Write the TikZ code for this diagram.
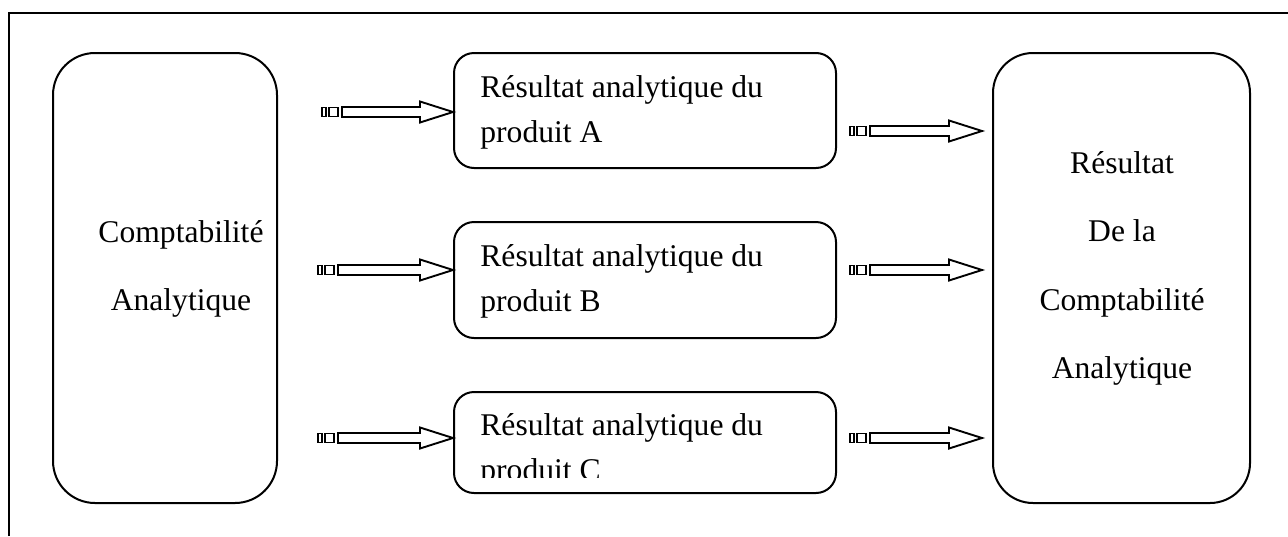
\documentclass[tikz,border=0pt]{standalone}
\usepackage{fontspec}
\setmainfont{Liberation Serif}
\usetikzlibrary{calc}

\tikzset{
  frameline/.style={line width=1pt},
  bigbox/.style={draw, line width=1pt, rounded corners=21pt, minimum height=225pt, inner sep=0pt},
  resbox/.style={draw, line width=1pt, rounded corners=10pt, minimum width=191pt, inner sep=0pt},
  txt/.style={font=\fontsize{15.8}{19}\selectfont, inner sep=0pt},
  arrowline/.style={line width=0.95pt, line join=miter},
}

% block arrow with two small tail squares: #1 tail point, #2 tip point
\newcommand\flowarrow[2]{%
  \draw[arrowline] ($(#1)+(0,-4.5)$) rectangle ($(#1)+(4,4.5)$);
  \draw[arrowline] ($(#1)+(7,-4.5)$) rectangle ($(#1)+(16,4.5)$);
  \draw[arrowline] ($(#1)+(20,-5)$) -- ($(#2)+(-33,-5)$) -- ($(#2)+(-33,-10.5)$)
    -- (#2) -- ($(#2)+(-33,10.5)$) -- ($(#2)+(-33,5)$) -- ($(#1)+(20,5)$) -- cycle;
}

\begin{document}
\begin{tikzpicture}[x=0.5pt, y=-0.5pt]
\useasboundingbox (0,0) rectangle (1288,536);

% outer frame (top and left edges)
\draw[frameline] (9,536) -- (9,13) -- (1288,13);

% source box
\node[bigbox, minimum width=112pt] (L) at (165,278) {};
\node[txt, anchor=base] (L1) at (181,242) {Comptabilité};
\node[txt, anchor=base] (L2) at (181,310) {Analytique};

% result box
\node[bigbox, minimum width=128.5pt, rounded corners=20pt] (R) at (1121.5,278) {};
\node[txt, anchor=base] (R1) at (1122,173) {Résultat};
\node[txt, anchor=base] (R2) at (1122,241) {De la};
\node[txt, anchor=base] (R3) at (1122,310) {Comptabilité};
\node[txt, anchor=base] (R4) at (1122,378) {Analytique};

% product boxes
\node[resbox, minimum height=57.5pt] (A) at (645,110.5) {};
\node[txt, anchor=base west] (A1) at (480,97) {Résultat analytique du};
\node[txt, anchor=base west] (A2) at (480,142) {produit A};

\node[resbox, minimum height=58pt] (B) at (645,280) {};
\node[txt, anchor=base west] (B1) at (480,266) {Résultat analytique du};
\node[txt, anchor=base west] (B2) at (480,311) {produit B};

\node[resbox, minimum height=50.5pt] (C) at (645,442.5) {};
\begin{scope}
  \clip (450,392) rectangle (840,477);
  \node[txt, anchor=base west] (C1) at (480,435) {Résultat analytique du};
  \node[txt, anchor=base west] (C2) at (480,480) {produit C};
\end{scope}

% arrow tails
\coordinate (ta) at (322,112);
\coordinate (tb) at (318,270);
\coordinate (tc) at (318,438);
\coordinate (ua) at (850,131);
\coordinate (ub) at (850,270);
\coordinate (uc) at (850,438);

% arrows from the source box to each product
\flowarrow{ta}{A.west |- ta}
\flowarrow{tb}{B.west |- tb}
\flowarrow{tc}{C.west |- tc}

% arrows from each product to the result
\coordinate (va) at ($(R.west |- ua)+(-10,0)$);
\coordinate (vb) at ($(R.west |- ub)+(-10,0)$);
\coordinate (vc) at ($(R.west |- uc)+(-10,0)$);
\flowarrow{ua}{va}
\flowarrow{ub}{vb}
\flowarrow{uc}{vc}
\end{tikzpicture}
\end{document}
